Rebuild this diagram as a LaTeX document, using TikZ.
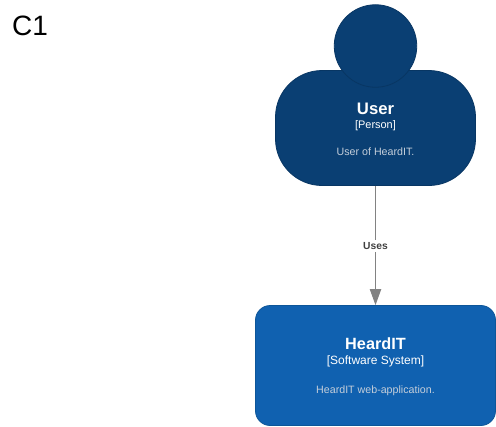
\documentclass[tikz,border=0pt]{standalone}
\usepackage{fontspec}
\setmainfont{Liberation Sans}
\usetikzlibrary{arrows.meta}
\definecolor{persfill}{HTML}{0A3F73}
\definecolor{persline}{HTML}{083663}
\definecolor{sysfill}{HTML}{1061B0}
\definecolor{sysline}{HTML}{0D5699}
\definecolor{desc}{HTML}{C4CEDA}
\definecolor{conn}{HTML}{828282}
\definecolor{lab}{HTML}{404040}
\tikzset{
  x=0.75pt,y=-0.75pt,
  head/.style={circle,draw=persline,fill=persfill,line width=0.6pt,minimum size=61.9pt,inner sep=0pt},
  personbox/.style={rectangle,rounded corners=35pt,draw=persline,fill=persfill,line width=0.6pt,minimum width=150pt,minimum height=86.25pt,inner sep=0pt},
  sysbox/.style={rectangle,rounded corners=11pt,draw=sysline,fill=sysfill,line width=0.6pt,minimum width=180pt,minimum height=90pt,inner sep=0pt},
  txt/.style={inner sep=0pt,text=white,anchor=center},
  link/.style={draw=conn,line width=0.75pt,-{Triangle[length=12pt,width=8.5pt]}},
}
\begin{document}
\begin{tikzpicture}
\useasboundingbox (0,0) rectangle (496,426);
\fill[white] (0,0) rectangle (496,426);
\node[personbox] (user) at (375.5,128) {};
\node[head] (head) at (375.5,46) {};
\node[sysbox] (sys) at (375.5,365.5) {};
\node[txt,text=black,font=\fontsize{21}{24}\selectfont] (c1) at (30,25.5) {C1};
\node[txt,font=\fontsize{12.5}{14}\selectfont\bfseries] (ut) at (375.5,108.5) {User};
\node[txt,font=\fontsize{8.2}{10}\selectfont] (up) at (375.5,126) {[Person]};
\node[txt,text=desc,font=\fontsize{8}{10}\selectfont] (ud) at (375.5,151.5) {User of HeardIT.};
\node[txt,font=\fontsize{12.2}{14}\selectfont\bfseries] (st) at (375.5,343.5) {HeardIT};
\node[txt,font=\fontsize{9}{11}\selectfont] (sp) at (375.5,361.5) {[Software System]};
\node[txt,text=desc,font=\fontsize{8}{10}\selectfont] (sd) at (375.5,390.5) {HeardIT web-application.};
\draw[link] (user.south) -- (sys.north) node[pos=0.5,yshift=-0.4pt,fill=white,inner sep=1.5pt,text=lab,font=\fontsize{7.7}{9}\selectfont\bfseries] (uses) {Uses};
\end{tikzpicture}
\end{document}
